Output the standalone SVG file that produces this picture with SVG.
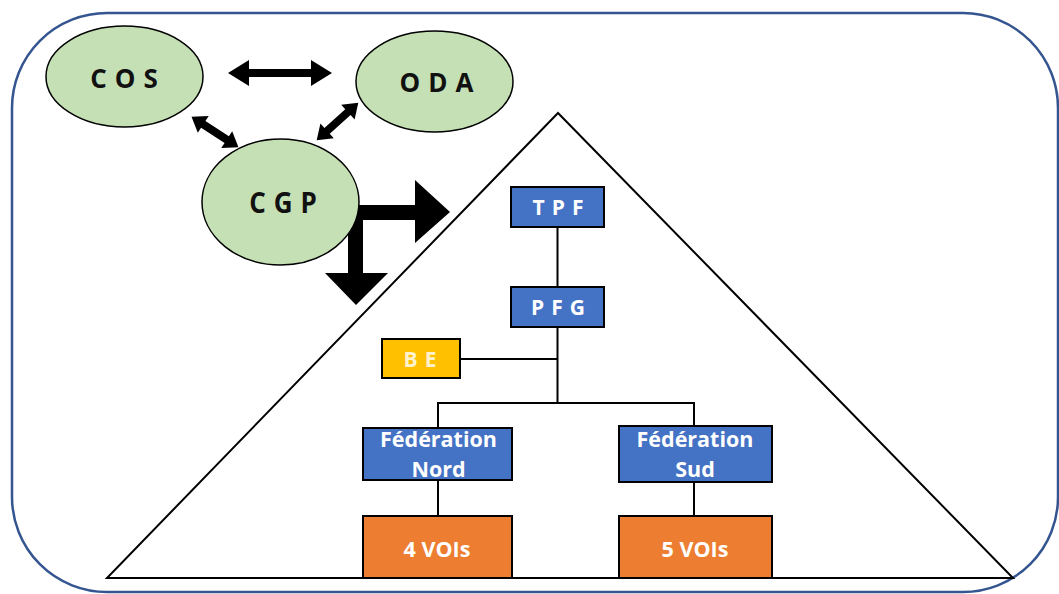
<svg xmlns="http://www.w3.org/2000/svg" xmlns:xlink="http://www.w3.org/1999/xlink" width="1059" height="594" viewBox="0 0 1059 594">
<style>
.ell{fill:#C5E0B4;stroke:#000;stroke-width:1.5}
.etx{font-family:"Open Sans",sans-serif;font-weight:700;font-size:26px;fill:#111;letter-spacing:8px;text-anchor:middle}
.blue{fill:#4472C4;stroke:#000;stroke-width:2}
.org{fill:#ED7D31;stroke:#000;stroke-width:2}
.yel{fill:#FFC000;stroke:#000;stroke-width:2}
.btx{font-family:"Open Sans",sans-serif;font-weight:700;font-size:21.5px;fill:#fff;text-anchor:middle}
.sp{letter-spacing:7px;font-size:21px}
.ln{stroke:#000;stroke-width:2;fill:none}
</style>
<defs>
<path id="dlong" d="M-52 0 L-31 -13 L-31 -4 L31 -4 L31 -13 L52 0 L31 13 L31 4 L-31 4 L-31 13 Z" fill="#000"/>
<path id="dshort" d="M-28 0 L-14 -10 L-14 -4 L14 -4 L14 -10 L28 0 L14 10 L14 4 L-14 4 L-14 10 Z" fill="#000"/>
</defs>
<rect x="0" y="0" width="1059" height="594" fill="#fff"/>
<rect x="12" y="13" width="1046" height="579" rx="95" ry="95" fill="none" stroke="#34558F" stroke-width="2.5"/>
<polygon id="pyramid" points="558,113 107,578 1013,578" fill="none" stroke="#000" stroke-width="2"/>
<g id="connectors">
<use xlink:href="#dlong" transform="translate(280,73)"/>
<use xlink:href="#dshort" transform="translate(215,132) rotate(33)"/>
<use xlink:href="#dshort" transform="translate(337.5,121.5) rotate(138)"/>
<path d="M348 205 L415 205 L415 180 L450 212 L415 243 L415 220 L363 220 L363 273 L388 273 L356 305 L325 273 L348 273 Z" fill="#000"/>
<line class="ln" x1="557.5" y1="227" x2="557.5" y2="287"/>
<line class="ln" x1="557.5" y1="327" x2="557.5" y2="403"/>
<line class="ln" x1="460" y1="359" x2="557.5" y2="359"/>
<polyline class="ln" points="438,428 438,403 694,403 694,426"/>
<line class="ln" x1="438" y1="480" x2="438" y2="516"/>
<line class="ln" x1="694" y1="482" x2="694" y2="516"/>
</g>
<g id="cos"><ellipse class="ell" cx="124.5" cy="76.5" rx="78.5" ry="50.5"/><text class="etx" transform="translate(128,88) scale(1,1.05)">COS</text></g>
<g id="oda"><ellipse class="ell" cx="434.5" cy="81.5" rx="78.5" ry="50.5"/><text class="etx" transform="translate(440.5,92) scale(1,1.05)">ODA</text></g>
<g id="cgp"><ellipse class="ell" cx="280.5" cy="202" rx="78.5" ry="63"/><text class="etx" transform="translate(287,213) scale(1,1.1)">CGP</text></g>
<g id="tpf"><rect class="blue" x="511" y="187" width="93" height="40"/><text class="btx sp" transform="translate(561.5,215) scale(1,1.05)">TPF</text></g>
<g id="pfg"><rect class="blue" x="511" y="287" width="93" height="40"/><text class="btx sp" transform="translate(561.5,315) scale(1,1.05)">PFG</text></g>
<g id="be"><rect class="yel" x="382" y="339" width="78" height="39"/><text class="btx sp" transform="translate(423.5,367)" style="fill:#FFF2CC">BE</text></g>
<g id="fed-nord"><rect class="blue" x="363" y="428" width="149" height="52"/><text class="btx" x="438.5" y="447">Fédération</text><text class="btx" x="438.5" y="477">Nord</text></g>
<g id="fed-sud"><rect class="blue" x="619" y="426" width="153" height="56"/><text class="btx" x="695" y="447">Fédération</text><text class="btx" x="695" y="477">Sud</text></g>
<g id="vois4"><rect class="org" x="363" y="516" width="149" height="62"/><text class="btx" x="437" y="557">4 VOIs</text></g>
<g id="vois5"><rect class="org" x="619" y="516" width="153" height="62"/><text class="btx" x="695" y="557">5 VOIs</text></g>
</svg>
